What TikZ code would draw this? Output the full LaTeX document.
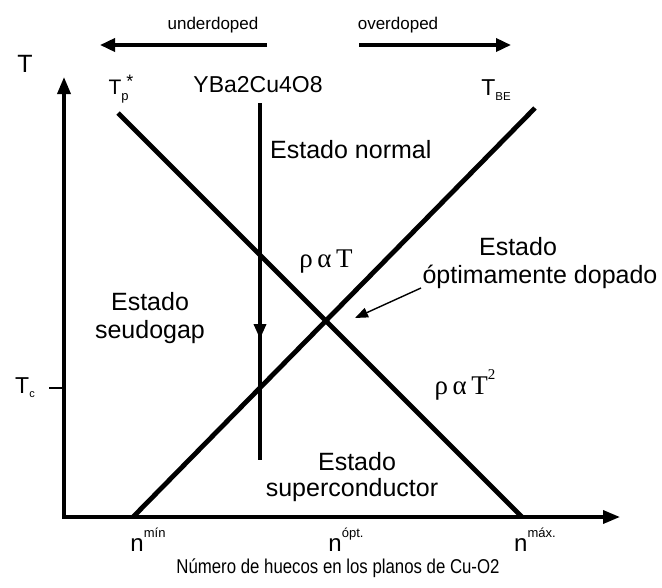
\documentclass[tikz,border=0pt]{standalone}
\usepackage{fontspec}
\setmainfont{Liberation Sans}
\newfontfamily\serifgr{Liberation Serif}
\usetikzlibrary{arrows.meta}
\begin{document}
\begin{tikzpicture}[x=1pt,y=-1pt,
  lbl/.style={font=\fontsize{25}{28}\selectfont, inner sep=0pt},
  smalllbl/.style={font=\fontsize{17}{19}\selectfont, inner sep=0pt},
  rholbl/.style={font=\serifgr\fontsize{27}{30}\selectfont, inner sep=0pt},
  axisline/.style={line width=3.5pt, line join=miter},
  phaseline/.style={line width=4.8pt},
  bigarrow/.style={line width=3.5pt, -{Triangle[length=15pt,width=13pt]}},
  leader/.style={line width=1.4pt, -{Triangle[length=13pt,width=10pt]}}]
\useasboundingbox (0,0) rectangle (662,587);
% axes
\coordinate (O) at (64,517);
\coordinate (Ytip) at (64,77);
\coordinate (Xtip) at (620,517);
\draw[axisline, {Triangle[length=17pt,width=13pt]}-{Triangle[length=17pt,width=13pt]}] (Ytip) -- (O) -- (Xtip);
\node[lbl] (Tlab) at (25,64) {T};
% Tc
\node[lbl, font=\fontsize{23}{26}\selectfont] (Tc) at (25,388) {T\raisebox{-0.35ex}{\fontsize{11}{11}\selectfont c}};
\coordinate (tickL) at (49,388);
\coordinate (tickR) at (64,388);
\draw[line width=1.5pt] (tickL) -- (tickR);
% doping arrows
\node[smalllbl] (under) at (213,25) {underdoped};
\node[smalllbl] (over) at (398,25) {overdoped};
\coordinate (u1) at (267,45); \coordinate (u2) at (100,45);
\coordinate (o1) at (359,45); \coordinate (o2) at (511,45);
\draw[bigarrow] (u1) -- (u2);
\draw[bigarrow] (o1) -- (o2);
% phase lines
\coordinate (A1) at (118,113); \coordinate (A2) at (522,517);
\coordinate (B1) at (133,517); \coordinate (B2) at (535,108);
\draw[phaseline] (A1) -- (A2);
\draw[phaseline] (B1) -- (B2);
% top labels
\node[lbl, font=\fontsize{21}{24}\selectfont] (Tp) at (115,87) {T};
\node[lbl, font=\fontsize{18}{18}\selectfont] (Tpstar) at (130,81) {*};
\node[lbl, font=\fontsize{13}{13}\selectfont] (Tpsub) at (125,98) {p};
\node[lbl, font=\fontsize{23}{26}\selectfont] (Y) at (258,85) {YBa2Cu4O8};
\node[lbl, font=\fontsize{23}{26}\selectfont] (TBE) at (496,90) {T\raisebox{-0.4ex}{\fontsize{11.5}{11.5}\selectfont BE}};
% vertical YBa2Cu4O8 line
\coordinate (V1) at (260,103); \coordinate (V2) at (260,460);
\coordinate (Va) at (260,305); \coordinate (Vb) at (260,339);
\draw[line width=3.5pt] (V1) -- (V2);
\draw[line width=3.5pt, -{Triangle[length=15pt,width=12pt]}] (Va) -- (Vb);
% region labels
\node[lbl, anchor=west] (normal) at (270,150) {Estado normal};
\node[rholbl] (rhoT) at (326,262) {ρ\,α\,T};
\node[lbl] (opt1) at (518,247) {Estado};
\node[lbl] (opt2) at (540,277) {óptimamente dopado};
\coordinate (L1) at (421,288); \coordinate (L2) at (355,318);
\draw[leader] (L1) -- (L2);
\node[lbl] (seu1) at (150,302) {Estado};
\node[lbl] (seu2) at (150,332) {seudogap};
\node[rholbl] (rhoT2) at (465,385) {ρ\,α\,T\raisebox{1.2ex}{\fontsize{15}{15}\selectfont 2}};
\node[lbl] (sc1) at (357,462) {Estado};
\node[lbl] (sc2) at (352,490) {superconductor};
% n labels
\node[lbl, font=\fontsize{24}{26}\selectfont] (nmin) at (148,540) {n\raisebox{1.1ex}{\fontsize{13}{13}\selectfont mín}};
\node[lbl, font=\fontsize{24}{26}\selectfont] (nopt) at (346,540) {n\raisebox{1.1ex}{\fontsize{13}{13}\selectfont ópt.}};
\node[lbl, font=\fontsize{24}{26}\selectfont] (nmax) at (535,540) {n\raisebox{1.1ex}{\fontsize{13}{13}\selectfont máx.}};
\node[lbl, font=\fontsize{20}{22}\selectfont] (xlab) at (338,568) {\scalebox{0.84}[1]{Número de huecos en los planos de Cu-O2}};
\end{tikzpicture}
\end{document}
